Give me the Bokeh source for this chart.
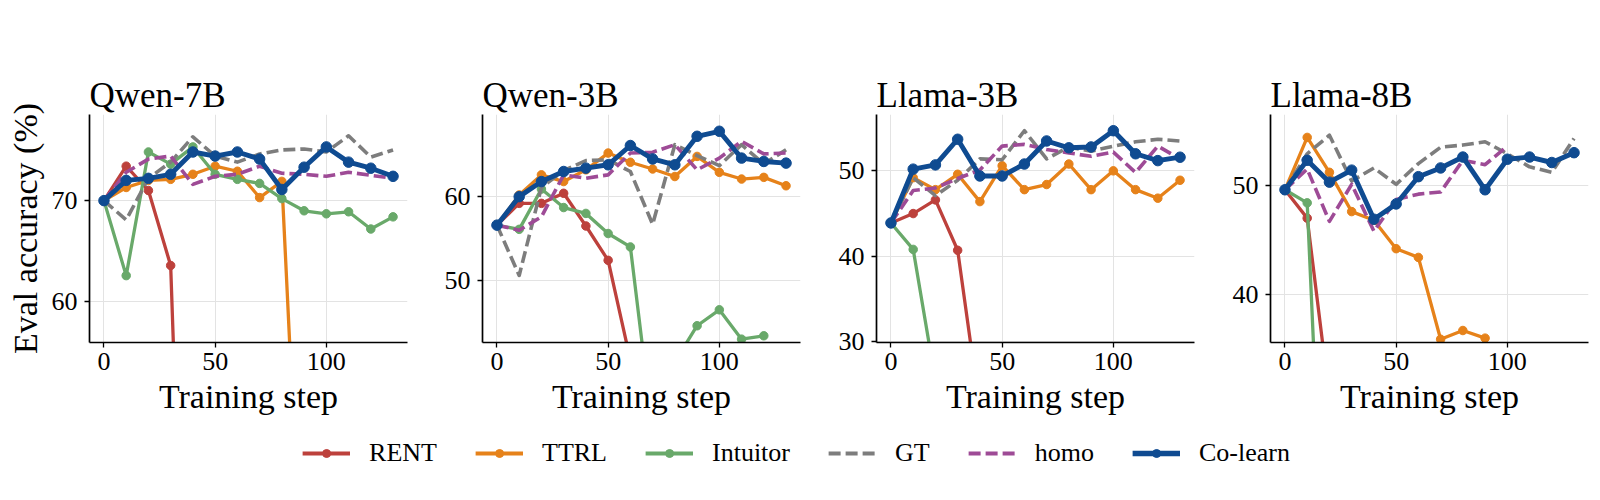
from bokeh.plotting import figure
from bokeh.layouts import row, column
from bokeh.models import Range1d, FixedTicker, Legend, LegendItem
from bokeh.embed import file_html
from bokeh.resources import INLINE

# ---------------- data ----------------
STEPS = [0, 10, 20, 30, 40, 50, 60, 70, 80, 90, 100, 110, 120, 130]
MODELS = ["Qwen-7B", "Qwen-3B", "Llama-3B", "Llama-8B"]
METHODS = ["RENT", "TTRL", "Intuitor", "GT", "homo", "Co-learn"]
X_TICKS = [0, 50, 100]
Y_TICKS = [[60, 70], [50, 60], [30, 40, 50], [40, 50]]
Y_LIMITS = [[56.0, 78.5], [42.6, 69.8], [29.9, 56.6], [35.6, 56.5]]
X_LIMITS = [-6.5, 136.5]

# Qwen-7B
qwen7b_rent = [70.0, 73.4, 71.0, 63.6, 0.0]
qwen7b_ttrl = [70.0, 71.3, 72.0, 72.1, 72.6, 73.4, 72.9, 70.3, 71.9, 26.5]
qwen7b_intuitor = [70.0, 62.6, 74.8, 73.6, 75.3, 72.6, 72.1, 71.7, 70.2, 69.0, 68.7, 68.9, 67.2, 68.4]
qwen7b_gt = [70.0, 68.1, 72.2, 73.8, 76.3, 74.4, 73.8, 74.6, 75.0, 75.1, 74.8, 76.4, 74.3, 75.0]
qwen7b_homo = [70.0, 72.8, 74.1, 74.4, 71.6, 72.4, 72.6, 73.4, 72.7, 72.6, 72.4, 72.8, 72.5, 72.2]
qwen7b_colearn = [70.0, 72.0, 72.2, 72.6, 74.8, 74.4, 74.8, 74.1, 71.1, 73.3, 75.3, 73.8, 73.2, 72.4]

# Qwen-3B
qwen3b_rent = [56.6, 59.2, 59.2, 60.4, 56.5, 52.4, 40.5]
qwen3b_ttrl = [56.6, 60.2, 62.6, 61.8, 63.2, 65.2, 64.1, 63.3, 62.4, 64.8, 62.9, 62.1, 62.3, 61.3]
qwen3b_intuitor = [56.6, 56.1, 60.9, 58.7, 58.0, 55.6, 54.0, 32.2, 40.3, 44.6, 46.5, 43.0, 43.4]
qwen3b_gt = [56.6, 50.6, 61.1, 63.1, 64.3, 64.4, 63.0, 56.7, 66.2, 64.9, 63.7, 66.2, 63.9, 65.6]
qwen3b_homo = [56.6, 56.0, 57.6, 62.6, 62.2, 62.6, 65.2, 65.3, 66.2, 63.2, 64.6, 66.6, 65.1, 65.2]
qwen3b_colearn = [56.6, 60.0, 61.8, 63.0, 63.4, 63.8, 66.1, 64.5, 63.8, 67.2, 67.8, 64.6, 64.2, 64.0]

# Llama-3B
llama3b_rent = [43.9, 45.0, 46.6, 40.7, 22.0]
llama3b_ttrl = [43.9, 49.2, 47.8, 49.6, 46.4, 50.6, 47.8, 48.4, 50.8, 47.8, 50.0, 47.8, 46.8, 48.9]
llama3b_intuitor = [43.9, 40.8, 25.4]
llama3b_gt = [43.9, 49.2, 47.1, 48.9, 51.4, 51.3, 54.7, 51.4, 52.8, 52.3, 52.9, 53.4, 53.7, 53.5]
llama3b_homo = [43.9, 47.7, 48.0, 49.1, 50.1, 52.9, 53.1, 52.5, 52.1, 51.7, 52.2, 49.8, 52.9, 51.4]
llama3b_colearn = [43.9, 50.2, 50.7, 53.7, 49.4, 49.4, 50.8, 53.5, 52.7, 52.8, 54.7, 52.0, 51.2, 51.6]

# Llama-8B
llama8b_rent = [49.6, 47.0, 30.5]
llama8b_ttrl = [49.6, 54.4, 51.2, 47.6, 46.8, 44.2, 43.4, 35.9, 36.7, 36.0]
llama8b_intuitor = [49.6, 48.4, 2.7]
llama8b_gt = [49.6, 52.9, 54.6, 50.4, 51.6, 50.1, 52.0, 53.5, 53.7, 54.0, 52.9, 51.7, 51.2, 54.3]
llama8b_homo = [49.6, 51.5, 46.7, 50.1, 45.8, 48.7, 49.2, 49.4, 52.3, 51.9, 53.6]
llama8b_colearn = [49.6, 52.3, 50.3, 51.4, 46.9, 48.3, 50.8, 51.6, 52.6, 49.6, 52.4, 52.6, 52.1, 53.0]

SERIES = [
    [qwen7b_rent, qwen7b_ttrl, qwen7b_intuitor, qwen7b_gt, qwen7b_homo, qwen7b_colearn],
    [qwen3b_rent, qwen3b_ttrl, qwen3b_intuitor, qwen3b_gt, qwen3b_homo, qwen3b_colearn],
    [llama3b_rent, llama3b_ttrl, llama3b_intuitor, llama3b_gt, llama3b_homo, llama3b_colearn],
    [llama8b_rent, llama8b_ttrl, llama8b_intuitor, llama8b_gt, llama8b_homo, llama8b_colearn],
]

# ---------------- styles ----------------
FONT = "Liberation Serif"
STYLE = {
    "RENT":     dict(color="#bd413c", width=3.3, dash="solid", marker=8.5),
    "TTRL":     dict(color="#e6821a", width=3.3, dash="solid", marker=8.5),
    "Intuitor": dict(color="#69a96a", width=3.3, dash="solid", marker=8.5),
    "GT":       dict(color="#7d7d7d", width=3.6, dash="12 5", marker=None),
    "homo":     dict(color="#9e4b96", width=3.6, dash="12 5", marker=None),
    "Co-learn": dict(color="#0f4b91", width=4.9, dash="solid", marker=10.5),
}

FRAME_W = 318
FRAME_H = 228
TOP = 114
BOTTOM = 83
BORDERS = [(89, 25), (50, 26), (50, 26), (50, 4)]


def make_panel(i):
    left, right = BORDERS[i]
    p = figure(width=left + FRAME_W + right, height=TOP + FRAME_H + BOTTOM,
               x_range=Range1d(*X_LIMITS), y_range=Range1d(*Y_LIMITS[i]),
               toolbar_location=None, output_backend="svg",
               min_border_left=left, min_border_right=right,
               min_border_top=TOP, min_border_bottom=BOTTOM)
    p.outline_line_color = None
    p.background_fill_color = "white"
    p.border_fill_color = "white"

    p.title.text = MODELS[i]
    p.title.text_font = FONT
    p.title.text_font_size = "35px"
    p.title.text_font_style = "normal"
    p.title.text_color = "black"
    p.title.align = "left"
    p.title.standoff = 0
    p.title.offset = 0

    p.xaxis.ticker = FixedTicker(ticks=X_TICKS)
    p.yaxis.ticker = FixedTicker(ticks=Y_TICKS[i])
    for ax in (p.xaxis[0], p.yaxis[0]):
        ax.axis_line_color = "black"
        ax.axis_line_width = 1.7
        ax.major_tick_line_color = "black"
        ax.major_tick_line_width = 1.3
        ax.major_tick_out = 5
        ax.major_tick_in = 0
        ax.minor_tick_out = 0
        ax.minor_tick_in = 0
        ax.major_label_text_font = FONT
        ax.major_label_text_font_size = "26px"
        ax.major_label_text_color = "black"
        ax.axis_label_text_font = FONT
        ax.axis_label_text_font_size = "34px"
        ax.axis_label_text_font_style = "normal"
        ax.axis_label_text_color = "black"
    p.xaxis.major_label_standoff = 5
    p.yaxis.major_label_standoff = 7
    p.xaxis.axis_label = "Training step"
    p.xaxis.axis_label_standoff = 5
    if i == 0:
        p.yaxis.axis_label = "Eval accuracy (%)"
        p.yaxis.axis_label_standoff = 5

    p.xgrid.ticker = FixedTicker(ticks=X_TICKS)
    p.ygrid.ticker = FixedTicker(ticks=Y_TICKS[i])
    p.grid.grid_line_color = "#e3e3e3"
    p.grid.grid_line_width = 1

    for name, ys in zip(METHODS, SERIES[i]):
        st = STYLE[name]
        xs = STEPS[:len(ys)]
        p.line(xs, ys, line_color=st["color"], line_width=st["width"],
               line_dash=st["dash"], line_join="round")
        if st["marker"]:
            p.scatter(xs, ys, size=st["marker"], fill_color=st["color"],
                      line_color=st["color"], marker="circle")
    return p


panels = [make_panel(i) for i in range(4)]

# legend figure (its dummy renderers sit outside the visible range)
lf = figure(width=1592, height=56, x_range=Range1d(0, 1), y_range=Range1d(0, 1),
            toolbar_location=None, output_backend="svg",
            x_axis_type=None, y_axis_type=None, min_border=0)
lf.outline_line_color = None
lf.grid.visible = False
items = []
for name in METHODS:
    st = STYLE[name]
    rs = [lf.line([5, 6], [5, 5], line_color=st["color"], line_width=st["width"] + 0.6,
                  line_dash=st["dash"])]
    if st["marker"]:
        rs.append(lf.scatter([5], [5], size=st["marker"] - 1, fill_color=st["color"],
                             line_color=st["color"], marker="circle"))
    items.append(LegendItem(label=name, renderers=rs))
legend = Legend(items=items, orientation="horizontal", location="center",
                label_text_font=FONT, label_text_font_size="26px",
                label_text_color="black",
                glyph_width=48, glyph_height=20, label_standoff=19, spacing=38,
                padding=0, margin=0, border_line_color=None,
                background_fill_alpha=0)
lf.add_layout(legend, "center")

layout = column(row(*panels, spacing=0), lf, spacing=0)

open("out.html", "w").write(file_html(layout, INLINE))
